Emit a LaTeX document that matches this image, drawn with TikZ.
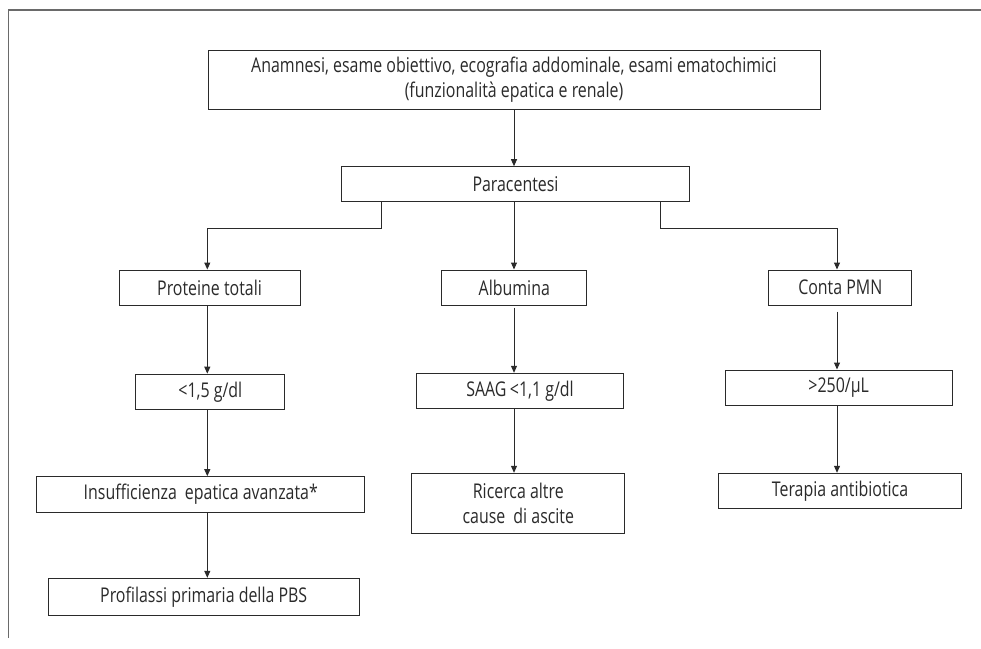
\documentclass[tikz,border=0pt]{standalone}
\usepackage{fontspec}
\setmainfont[FakeStretch=0.785]{Open Sans}
\usetikzlibrary{arrows.meta}
\definecolor{ink}{HTML}{2A2A2A}
\definecolor{frame}{HTML}{6A6A6A}
\begin{document}
\begin{tikzpicture}[x=1pt,y=-1pt,
  box/.style={draw=ink,line width=1pt,rectangle,inner sep=0pt,align=center,
    font=\fontsize{20.3}{24.5}\selectfont,text=ink},
  arr/.style={draw=ink,line width=1pt,-{Triangle[length=7pt,width=6pt]}}]
\useasboundingbox (0,0) rectangle (981,648);
\draw[frame,line width=1.3pt] (8.3,638) -- (8.3,10) -- (981,10);
\coordinate (colL) at (207.3,0);
\coordinate (colM) at (514,0);
\coordinate (colR) at (837,0);
\coordinate (brL) at (381,228.3);
\coordinate (brR) at (660,228.3);
\node[box,minimum width=612pt,minimum height=59pt] (top) at (514,79.5)
  {Anamnesi, esame obiettivo, ecografia addominale, esami ematochimici\\(funzionalità epatica e renale)};
\node[box,minimum width=347.6pt,minimum height=35pt] (para) at (515.5,184.2) {Paracentesi};
\node[box,minimum width=181pt,minimum height=35pt] (prot) at (209.5,287.5) {Proteine totali};
\node[box,minimum width=145.3pt,minimum height=35pt] (alb) at (514.3,287.5) {Albumina};
\node[box,minimum width=142.7pt,minimum height=35pt] (conta) at (840.3,287.5) {Conta PMN};
\node[box,minimum width=149.3pt,minimum height=35.7pt] (lt) at (210.3,392) {<1,5 g/dl};
\node[box,minimum width=206.6pt,minimum height=35pt] (saag) at (520,390.8) {SAAG\,<1,1 g/dl};
\node[box,minimum width=226.7pt,minimum height=35pt] (gt) at (838.7,387.5) {>250/µL};
\node[box,minimum width=328.3pt,minimum height=35.6pt] (insuf) at (200.8,494.5) {Insufficienza\hspace{0.4em}epatica avanzata*};
\node[box,minimum width=213.3pt,minimum height=60pt] (ric) at (518.3,503.3) {Ricerca altre\\cause\hspace{0.4em}di ascite};
\node[box,minimum width=243.4pt,minimum height=35pt] (ter) at (840,490.8) {Terapia antibiotica};
\node[box,minimum width=310.7pt,minimum height=37.4pt] (prof) at (203.7,597) {Profilassi primaria della PBS};
\draw[arr] (top.south -| colM) -- (para.north -| colM);
\draw[arr] (para.south -| brL) -- (brL) -| (prot.north -| colL);
\draw[arr] (para.south -| brR) -- (brR) -| (conta.north -| colR);
\draw[arr] (para.south -| colM) -- (alb.north -| colM);
\draw[arr] (prot.south -| colL) -- (lt.north -| colL);
\draw[arr,shorten <=2pt] (alb.south -| colM) -- (saag.north -| colM);
\draw[arr,shorten <=6pt] (conta.south -| colR) -- (gt.north -| colR);
\draw[arr] (lt.south -| colL) -- (insuf.north -| colL);
\draw[arr] (saag.south -| colM) -- (ric.north -| colM);
\draw[arr] (gt.south -| colR) -- (ter.north -| colR);
\draw[arr] (insuf.south -| colL) -- (prof.north -| colL);
\end{tikzpicture}
\end{document}
